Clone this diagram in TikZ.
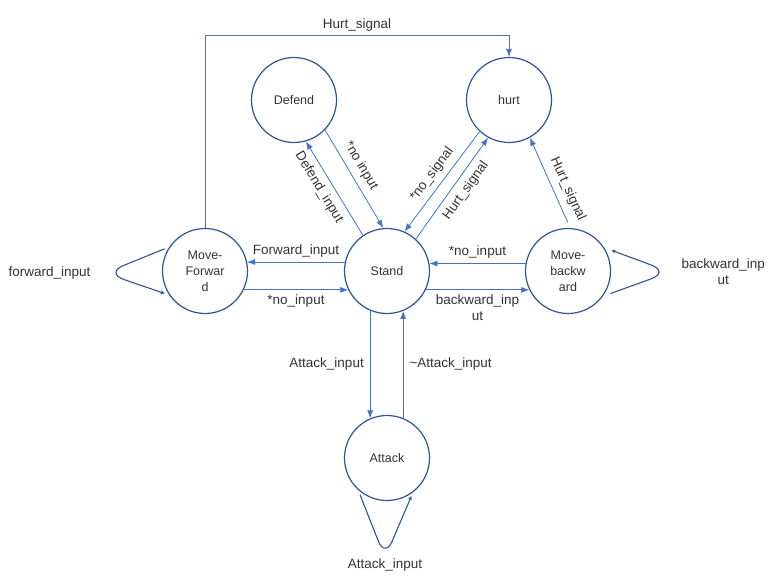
\documentclass[tikz,border=0pt]{standalone}
\usepackage{fontspec}
\setmainfont{Liberation Sans}
\usetikzlibrary{arrows.meta, positioning}

\definecolor{statecol}{HTML}{2F5597}
\definecolor{edgecol}{HTML}{4472C4}
\definecolor{textcol}{HTML}{333333}

\begin{document}
\begin{tikzpicture}[
    x=1pt, y=-1pt, % pixel grid of the sketch, y runs downwards
    state/.style={draw=statecol, circle, line width=1.2pt, minimum size=85pt, inner sep=0pt, align=center, text=textcol, font=\fontsize{12.5}{16}\selectfont}, % states
    edge/.style={-{Latex[length=8pt,width=6pt]}, draw=edgecol, line width=0.8pt},
    selfloop/.style={-{Stealth[length=4pt,width=4pt]}, draw=statecol, line width=1.1pt, rounded corners=20pt},
    lbl/.style={text=textcol, font=\fontsize{13.5}{16}\selectfont, inner sep=2pt, align=center}
]
\useasboundingbox (0,0) rectangle (774,586);

% States
\node[state] (defend) at (294, 100) {Defend};
\node[state] (hurt) at (509, 100) {hurt};
\node[state] (stand) at (387, 271) {Stand};
\node[state] (forward) at (205, 271) {Move-\\Forwar\\d};
\node[state] (backward) at (568, 271) {Move-\\backw\\ard};
\node[state] (attack) at (387, 458) {Attack};

% Turning points of the self loops
\coordinate (forwardloop) at (105, 273);
\coordinate (backwardloop) at (670, 272);
\coordinate (attackloop) at (385, 558);

% Edges
\draw[edge] (forward.north) -- ++(0, -192) -| node[lbl, pos=0.25, above=2pt] {Hurt\_signal} (hurt.north);
\draw[edge] (stand.124) -- node[lbl, sloped, pos=0.58, below=4pt] {Defend\_input} (defend.-74);
\draw[edge] (defend.-44) -- node[lbl, sloped, pos=0.43, above=4pt] {*no input} (stand.95);
\draw[edge] (hurt.227) -- node[lbl, sloped, pos=0.5, above=4pt] {*no\_signal} (stand.66);
\draw[edge] (stand.48) -- node[lbl, sloped, pos=0.55, below=4pt] {Hurt\_signal} (hurt.241);
\draw[edge, shorten <=6pt] (backward.87) -- node[lbl, sloped, pos=0.37, above=5pt] {Hurt\_signal} (hurt.-61);
\draw[edge] (stand.168) -- node[lbl, above=2pt] {Forward\_input} (forward.12);
\draw[edge] (forward.-26) -- node[lbl, below=2pt] {*no\_input} (stand.206);
\draw[edge] (backward.170) -- node[lbl, above=3pt] {*no\_input} (stand.10);
\draw[edge] (stand.-26) -- node[lbl, below=2pt] {backward\_inp\\ut} (backward.206);
\draw[edge] (stand.-113) -- node[lbl, left=4pt] {Attack\_input} (attack.113);
\draw[edge] (attack.68) -- node[lbl, right=4pt] {\textasciitilde Attack\_input} (stand.-68);

% Self loops
\draw[selfloop, shorten <=5pt, shorten >=5pt] (forward.146) -- (forwardloop) node[lbl, left=12pt] {forward\_input} -- (forward.214);
\draw[selfloop, shorten <=8pt, shorten >=8pt] (backward.-36) -- (backwardloop) node[lbl, right=9pt] {backward\_inp\\ut} -- (backward.33);
\draw[selfloop, rounded corners=18pt, shorten <=5pt, shorten >=4pt] (attack.228) -- (attackloop) node[lbl, below=-2pt] {Attack\_input} -- (attack.-53);

\end{tikzpicture}
\end{document}
